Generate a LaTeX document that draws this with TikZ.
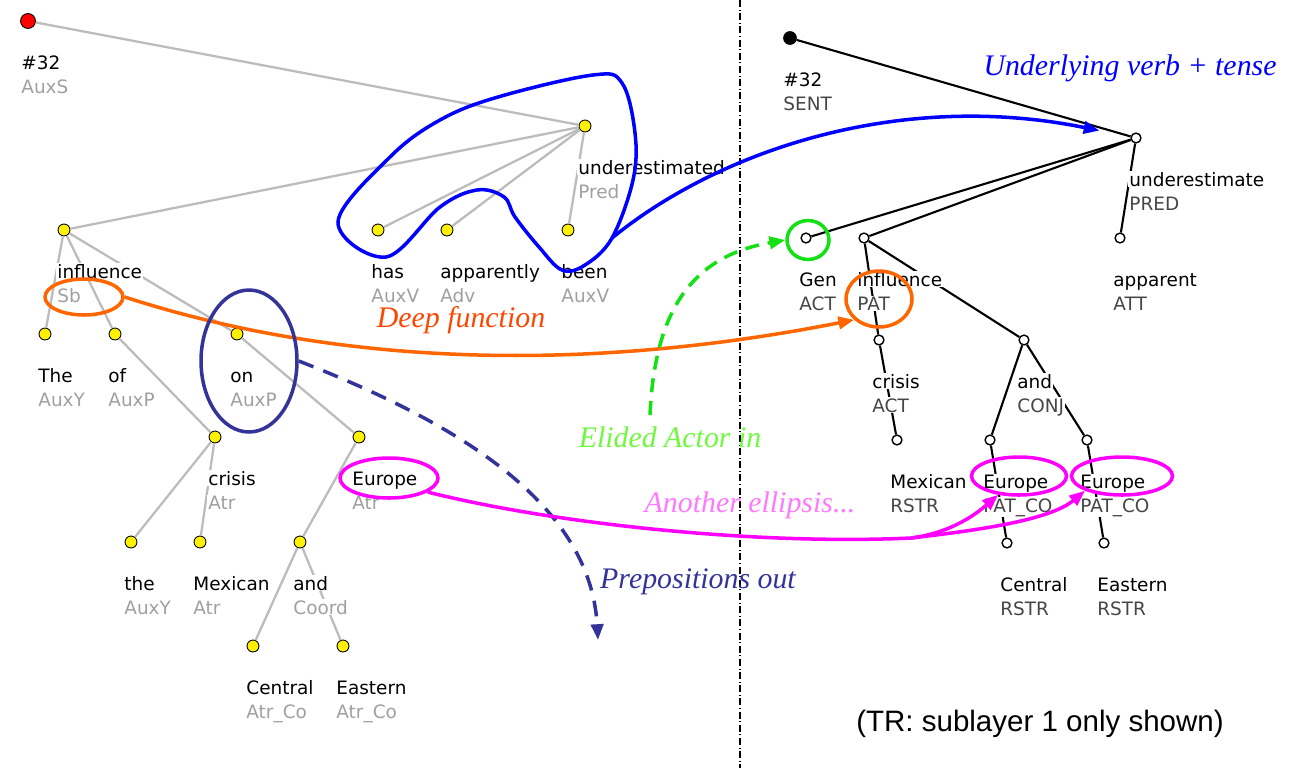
\documentclass[tikz,border=0pt]{standalone}
\usepackage{fontspec}
\setmainfont{DejaVu Sans}
\newfontfamily\annfont{Liberation Serif}
\newfontfamily\capfont{Liberation Sans}
\usetikzlibrary{calc,shapes.geometric,arrows.meta}

\definecolor{edgegrey}{RGB}{188,188,188}
\definecolor{fungrey}{RGB}{160,160,160}
\definecolor{rfungrey}{RGB}{70,70,70}
\definecolor{ringorange}{RGB}{255,102,0}
\definecolor{deeporange}{RGB}{255,70,0}
\definecolor{ringnavy}{RGB}{51,51,153}
\definecolor{ringgreen}{RGB}{20,225,20}
\definecolor{elidgreen}{RGB}{110,250,60}
\definecolor{ringpink}{RGB}{255,0,255}
\definecolor{anothpink}{RGB}{255,120,255}

\tikzset{
  ynode/.style={circle, draw=black, fill=yellow, line width=0.5pt, minimum size=6.8pt, inner sep=0pt},
  onode/.style={circle, draw=black, fill=white, line width=0.8pt, minimum size=5.6pt, inner sep=0pt},
  ledge/.style={edgegrey, line width=1.3pt},
  redge/.style={black, line width=1.2pt},
  wlbl/.style={anchor=base west, fill=white, inner sep=0.6pt, font=\fontsize{10.5}{12}\selectfont},
  lflbl/.style={wlbl, text=fungrey},
  rflbl/.style={wlbl, text=rfungrey},
  ring/.style={ellipse, draw, line width=2pt, inner sep=0pt},
  annarrow/.style={line width=2pt, -{Triangle[length=9pt,width=7pt]}},
  anntxt/.style={font=\annfont\itshape\fontsize{17}{20}\selectfont}
}

\begin{document}
\begin{tikzpicture}[x=0.02cm, y=-0.02cm]
  \useasboundingbox (0,0) rectangle (1293,768);

  % divider between the two layers
  \draw[line width=0.6pt, dash pattern=on 4pt off 1.5pt on 0.5pt off 1.5pt] (740,0) -- (740,768);

  % analytical tree
  \node[ynode, fill=red, minimum size=8.5pt] (lroot) at (28,21) {};
  \foreach \n/\x/\y in {lpred/585/126, linfl/64/230, lhas/378/230, lapp/447/230,
      lbeen/568/230, lthe/45/334, lof/115/334, lon/237/334, lcris/215/437,
      leur/359/437, lart/131/542, lmex/200/542, land/300/542, lcen/253/646, least/343/646}
    \node[ynode] (\n) at (\x,\y) {};

  \foreach \a/\b in {lroot/lpred, lpred/linfl, lpred/lhas, lpred/lapp, lpred/lbeen,
      linfl/lthe, linfl/lof, linfl/lon, lof/lcris, lon/leur, lcris/lart, lcris/lmex,
      leur/land, land/lcen, land/least}
    \draw[ledge] (\a) -- (\b);

  \foreach \n/\w/\f in {lroot/\#32/AuxS, lpred/underestimated/Pred, linfl/influence/Sb,
      lhas/has/AuxV, lapp/apparently/Adv, lbeen/been/AuxV, lthe/The/AuxY, lof/of/AuxP,
      lon/on/AuxP, lcris/crisis/Atr, leur/Europe/Atr, lart/the/AuxY, lmex/Mexican/Atr,
      land/and/Coord, lcen/Central/Atr\_Co, least/Eastern/Atr\_Co}{
    \node[wlbl] (\n-w) at ($(\n)+(-8,48)$) {\w};
    \node[lflbl] (\n-f) at ($(\n)+(-8,72)$) {\f};
  }

  % tectogrammatical tree
  \node[onode, fill=black, minimum size=7pt] (rroot) at (790,38) {};
  \foreach \n/\x/\y in {rpred/1136/138, rgen/806/238, rinfl/864/238, rapp/1120/238,
      rcris/879/340, rand/1024/340, rmex/897/440, reura/990/440, reurb/1087/440,
      rcen/1007/543, reast/1104/543}
    \node[onode] (\n) at (\x,\y) {};

  \foreach \a/\b in {rroot/rpred, rpred/rgen, rpred/rinfl, rpred/rapp, rinfl/rcris,
      rinfl/rand, rcris/rmex, rand/reura, rand/reurb, reura/rcen, reurb/reast}
    \draw[redge] (\a) -- (\b);

  \foreach \n/\w/\f in {rroot/\#32/SENT, rpred/underestimate/PRED, rgen/Gen/ACT,
      rinfl/influence/PAT, rapp/apparent/ATT, rcris/crisis/ACT, rand/and/CONJ,
      rmex/Mexican/RSTR, reura/Europe/PAT\_CO, reurb/Europe/PAT\_CO,
      rcen/Central/RSTR, reast/Eastern/RSTR}{
    \node[wlbl] (\n-w) at ($(\n)+(-8,48)$) {\w};
    \node[rflbl] (\n-f) at ($(\n)+(-8,72)$) {\f};
  }

  % verb group -> underlying verb
  \draw[blue, line width=2pt] plot[smooth cycle, tension=0.6] coordinates {
    (338,222) (386,257) (440,207) (477,190) (504,197) (515,217) (539,247) (562,270)
    (585,265) (612,238) (633,180) (635,133) (622,83) (593,75) (498,97) (440,120) (390,157)};
  \coordinate (blobout) at (612,238);
  \draw[annarrow, blue, shorten >=18pt] (blobout) .. controls (720,150) and (900,90) .. (rpred);
  \node[anntxt, text=blue] (undtxt) at (1130,68) {Underlying verb + tense};

  % deep function
  \node[ring, ringorange, minimum width=1.56cm, minimum height=0.72cm] (sbring) at (84,297) {};
  \node[ring, ringorange, minimum width=1.32cm, minimum height=1.12cm] (patring) at (879,299) {};
  \draw[annarrow, ringorange] (sbring.east) .. controls (350,370) and (600,370) .. (patring.220);
  \node[anntxt, text=deeporange] (deeptxt) at (461,320) {Deep function};

  % prepositions
  \node[ring, ringnavy, minimum width=1.92cm, minimum height=2.84cm] (onring) at (249,361) {};
  \coordinate (prepend) at (598,640);
  \draw[annarrow, ringnavy, dash pattern=on 9pt off 6pt] (onring.east) .. controls (450,420) and (590,500) .. (prepend);
  \node[anntxt, text=ringnavy] (preptxt) at (698,582) {Prepositions out};

  % elided actor
  \node[ring, ringgreen, minimum width=0.84cm, minimum height=0.78cm] (genring) at (808,240) {};
  \coordinate (elidstart) at (650,415);
  \draw[annarrow, ringgreen, dash pattern=on 8pt off 5pt] (elidstart) .. controls (655,300) and (700,255) .. (genring.west);
  \node[anntxt, text=elidgreen] (elidtxt) at (670,437) {Elided Actor in};

  % ellipsis of Europe
  \node[ring, ringpink, minimum width=1.96cm, minimum height=0.8cm] (eurring) at (389,478) {};
  \node[ring, ringpink, minimum width=1.9cm, minimum height=0.76cm] (eurringa) at (1019,476) {};
  \node[ring, ringpink, minimum width=2.02cm, minimum height=0.76cm] (eurringb) at (1122,476) {};
  \coordinate (fork) at (911,538);
  \draw[ringpink, line width=2pt] (eurring.-20) .. controls (560,525) and (760,545) .. (fork);
  \draw[annarrow, ringpink] (fork) .. controls (950,533) and (975,515) .. (eurringa.222);
  \draw[annarrow, ringpink] (fork) .. controls (980,530) and (1050,520) .. (eurringb.south west);
  \node[anntxt, text=anothpink] (anothtxt) at (750,505) {Another ellipsis...};

  \node[font=\capfont\fontsize{16.8}{20}\selectfont] (trnote) at (1040,724) {(TR: sublayer 1 only shown)};
\end{tikzpicture}
\end{document}
